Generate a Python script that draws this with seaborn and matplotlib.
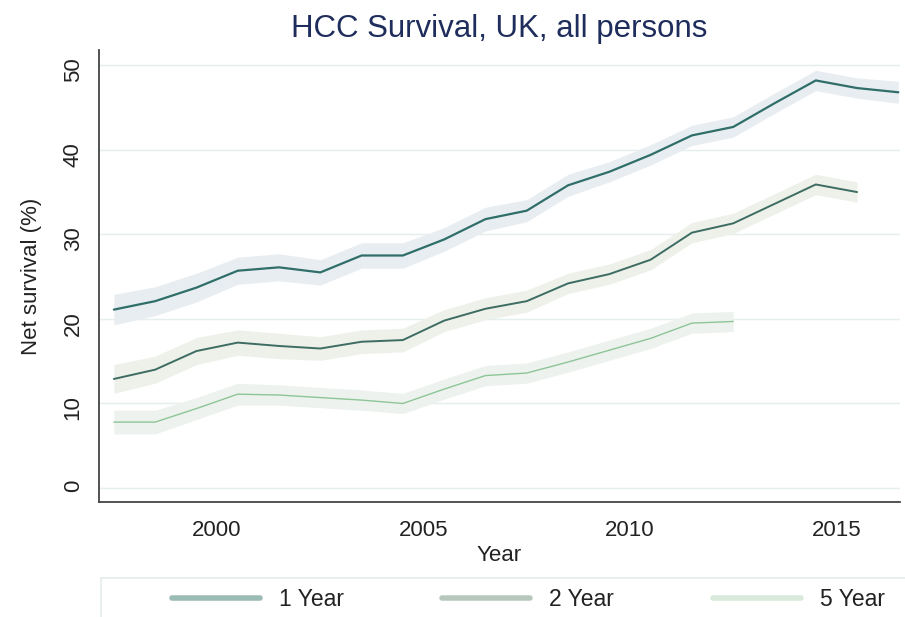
import matplotlib
matplotlib.use("Agg")
import matplotlib.pyplot as plt
from matplotlib.lines import Line2D
from matplotlib.patches import Rectangle
import numpy as np
import pandas as pd
import seaborn as sns

# data (mid-year points)
years = [1997.5, 1998.5, 1999.5, 2000.5, 2001.5, 2002.5, 2003.5, 2004.5, 2005.5, 2006.5,
         2007.5, 2008.5, 2009.5, 2010.5, 2011.5, 2012.5, 2013.5, 2014.5, 2015.5, 2016.5]

surv_1yr = [21.1, 22.1, 23.7, 25.7, 26.1, 25.5, 27.5, 27.5, 29.4, 31.8,
            32.8, 35.8, 37.4, 39.4, 41.7, 42.7, 45.5, 48.2, 47.3, 46.8]
ci_1yr = [1.8, 1.7, 1.7, 1.6, 1.6, 1.5, 1.5, 1.5, 1.4, 1.4,
          1.3, 1.3, 1.2, 1.2, 1.2, 1.2, 1.2, 1.2, 1.2, 1.3]

surv_2yr = [12.9, 14.0, 16.2, 17.2, 16.8, 16.5, 17.3, 17.5, 19.8, 21.2,
            22.1, 24.2, 25.3, 27.0, 30.2, 31.3, 33.6, 35.9, 35.0]
ci_2yr = [1.7, 1.6, 1.6, 1.5, 1.5, 1.4, 1.4, 1.4, 1.3, 1.3,
          1.3, 1.2, 1.2, 1.2, 1.2, 1.2, 1.2, 1.2, 1.2]

surv_5yr = [7.8, 7.8, 9.4, 11.1, 11.0, 10.7, 10.4, 10.0, 11.7, 13.3,
            13.6, 14.9, 16.3, 17.7, 19.5, 19.7]
ci_5yr = [1.4, 1.4, 1.3, 1.3, 1.2, 1.2, 1.2, 1.2, 1.2, 1.2,
          1.2, 1.2, 1.2, 1.2, 1.2, 1.2]

labels = ["1 Year", "2 Year", "5 Year"]
line_colors = ["#2f6e69", "#3d6c63", "#8dc598"]
band_colors = ["#e8edf1", "#eef1ea", "#eef2ee"]
legend_colors = ["#9bbcb4", "#b6c8bc", "#d9eada"]
line_widths = [1.6, 1.4, 1.0]

sns.set_style("white")
plt.rcParams["font.family"] = ["Liberation Sans", "DejaVu Sans"]

fig = plt.figure(figsize=(9.05, 6.17), dpi=100)
ax = fig.add_axes([99 / 905, 1 - 502 / 617, (900 - 99) / 905, (502 - 50) / 617])

series = [(surv_1yr, ci_1yr), (surv_2yr, ci_2yr), (surv_5yr, ci_5yr)]
frames = []
for (vals, ci), lab in zip(series, labels):
    frames.append(pd.DataFrame({"year": years[:len(vals)], "surv": vals,
                                "lo": np.array(vals) - np.array(ci),
                                "hi": np.array(vals) + np.array(ci),
                                "series": lab}))
df = pd.concat(frames, ignore_index=True)

# confidence bands first, so lines sit on top
for lab, bc in zip(labels, band_colors):
    d = df[df.series == lab]
    ax.fill_between(d.year, d.lo, d.hi, color=bc, lw=0, zorder=1)

for lab, lc, lw in zip(labels, line_colors, line_widths):
    sns.lineplot(data=df[df.series == lab], x="year", y="surv", color=lc,
                 lw=lw, ax=ax, legend=False, zorder=3)

ax.set_xlim(1997.14, 2016.54)
ax.set_ylim(-1.65, 51.8)
ax.set_xticks([2000, 2005, 2010, 2015])
ax.set_yticks([0, 10, 20, 30, 40, 50])
ax.yaxis.grid(True, color="#e4eeec", lw=1.0)
ax.set_axisbelow(True)

for s in ["top", "right"]:
    ax.spines[s].set_visible(False)
for s in ["left", "bottom"]:
    ax.spines[s].set_color("#444444")
    ax.spines[s].set_linewidth(1.3)

ax.tick_params(axis="both", length=5, width=1.3, color="#444444",
               labelsize=16, labelcolor="#222222", direction="out")
ax.tick_params(axis="y", labelrotation=90, pad=6)
ax.tick_params(axis="x", pad=8)

ax.set_xlabel("Year", fontsize=16, color="#222222", labelpad=3)
ax.set_ylabel("Net survival (%)", fontsize=16, color="#222222", labelpad=15)
ax.set_title("HCC Survival, UK, all persons", fontsize=22.5, color="#1f2d5c", pad=9)

# legend box runs off the bottom/right edge like in the reference
fig.patches.append(Rectangle((101 / 905, -0.05), 0.9, 0.05 + 1 - 578 / 617,
                             transform=fig.transFigure, facecolor="white",
                             edgecolor="#e4ecea", lw=1.2, zorder=0))
handles = [Line2D([0], [0], color=c, lw=4) for c in legend_colors]
fig.legend(handles, labels, ncol=3, frameon=False, fontsize=16.5,
           loc="center left", bbox_to_anchor=(151 / 905, 1 - 600 / 617),
           handlelength=3.84, handletextpad=0.83, columnspacing=4.3,
           labelcolor="#222222")

fig.savefig("out.png", dpi=100)
